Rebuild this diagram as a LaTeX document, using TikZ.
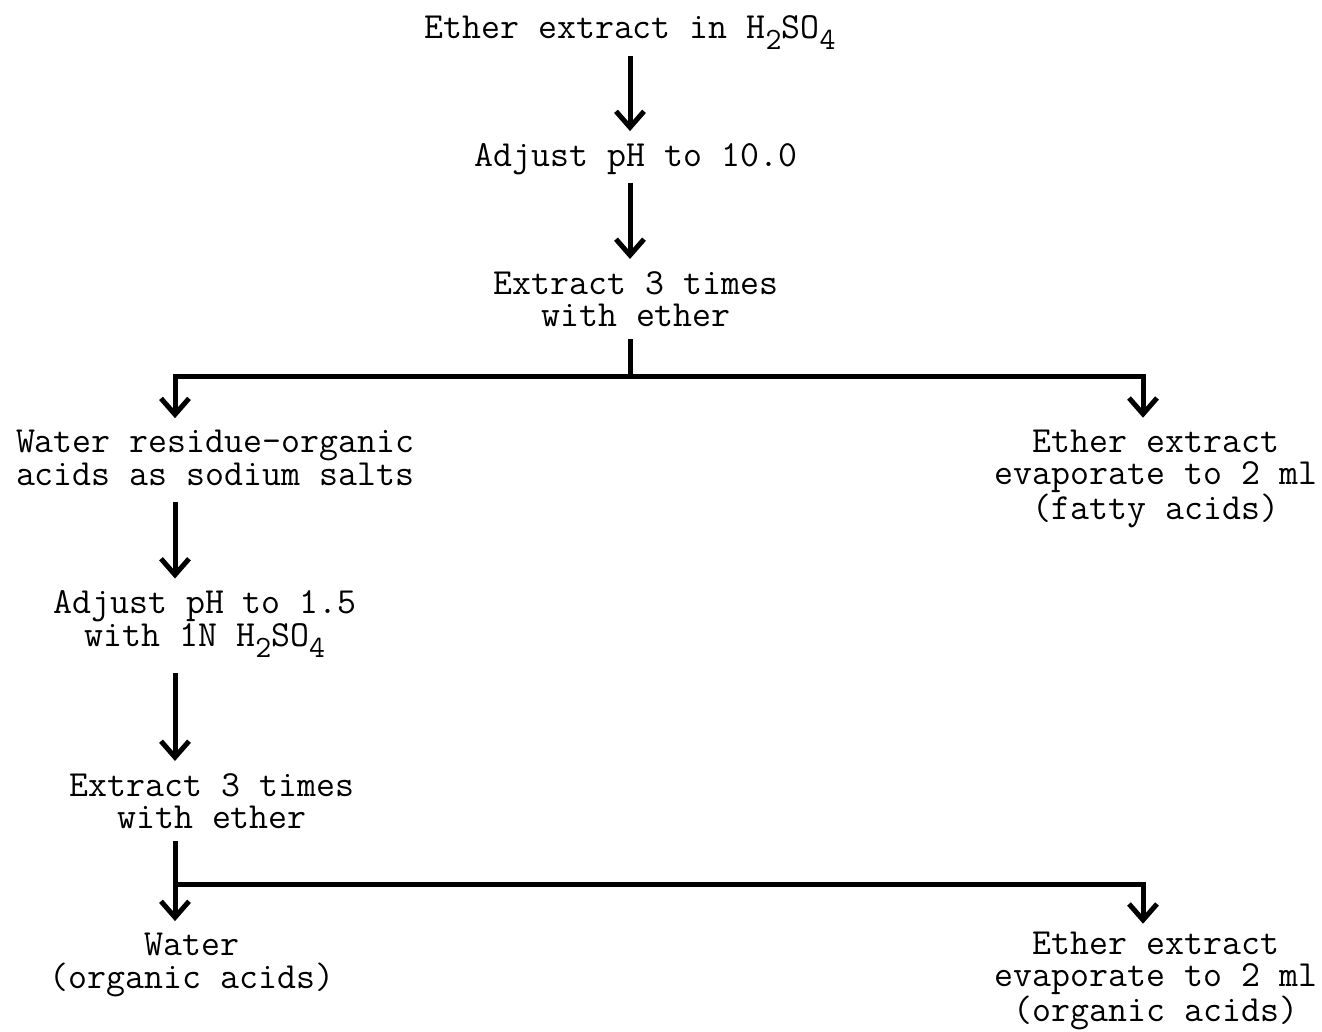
\documentclass[tikz,border=0pt]{standalone}
\usetikzlibrary{arrows.meta}
\newcommand\mysb[1]{\raisebox{-0.3em}{\fontsize{31}{31}\selectfont #1}}
\begin{document}
\begin{tikzpicture}[x=1pt,y=-1pt,
  lbl/.style={inner sep=0pt, align=center, font=\ttfamily\fontsize{36.8}{32.5}\selectfont},
  flow/.style={line width=5pt, -{Straight Barb[length=16pt,width=28pt,line width=5pt]}},
  ln/.style={line width=5pt}]
\useasboundingbox (0,0) rectangle (1322,1032);
% labels
\node[lbl] (t1) at (630,33) {Ether extract in H\mysb{2}SO\mysb{4}};
\node[lbl] (t2) at (636,159) {Adjust pH to 10.0};
\node[lbl] (t3) at (636,299) {Extract 3 times\\with ether};
\node[lbl] (t4) at (215,458) {Water residue-organic\\acids as sodium salts};
\node[lbl] (t5) at (1156,479) {Ether extract\\evaporate to 2 ml\\(fatty acids)};
\node[lbl] (t6) at (205,624) {Adjust pH to 1.5\\with 1N H\mysb{2}SO\mysb{4}};
\node[lbl] (t7) at (212,801) {Extract 3 times\\with ether};
\node[lbl] (t8) at (192,965) {Water\\(organic acids)};
\node[lbl] (t9) at (1156,981) {Ether extract\\evaporate to 2 ml\\(organic acids)};
% coordinates
\coordinate (c1) at (630,0);
\coordinate (j1) at (630,376);
\coordinate (l1) at (175,376);
\coordinate (r1) at (1143,376);
\coordinate (l2) at (175,884);
\coordinate (r2) at (1143,884);
% connectors
\draw[flow, shorten <=6pt, shorten >=12pt] (t1.south -| c1) -- (t2.north -| c1);
\draw[flow, shorten <=8pt, shorten >=12pt] (t2.south -| c1) -- (t3.north -| c1);
\draw[ln, shorten <=12pt] (t3.south -| j1) -- (j1);
\draw[flow, shorten >=12pt] (j1) -- (l1) -- (t4.north -| l1);
\draw[flow, shorten >=12pt] (j1) -- (r1) -- (t5.north -| r1);
\draw[flow, shorten <=16pt, shorten >=12pt] (t4.south -| l1) -- (t6.north -| l1);
\draw[flow, shorten <=16pt, shorten >=12pt] (t6.south -| l1) -- (t7.north -| l1);
\draw[flow, shorten <=12pt, shorten >=12pt] (t7.south -| l2) -- (t8.north -| l2);
\draw[flow, shorten >=8pt] (l2) -- (r2) -- (t9.north -| r2);
\end{tikzpicture}
\end{document}
